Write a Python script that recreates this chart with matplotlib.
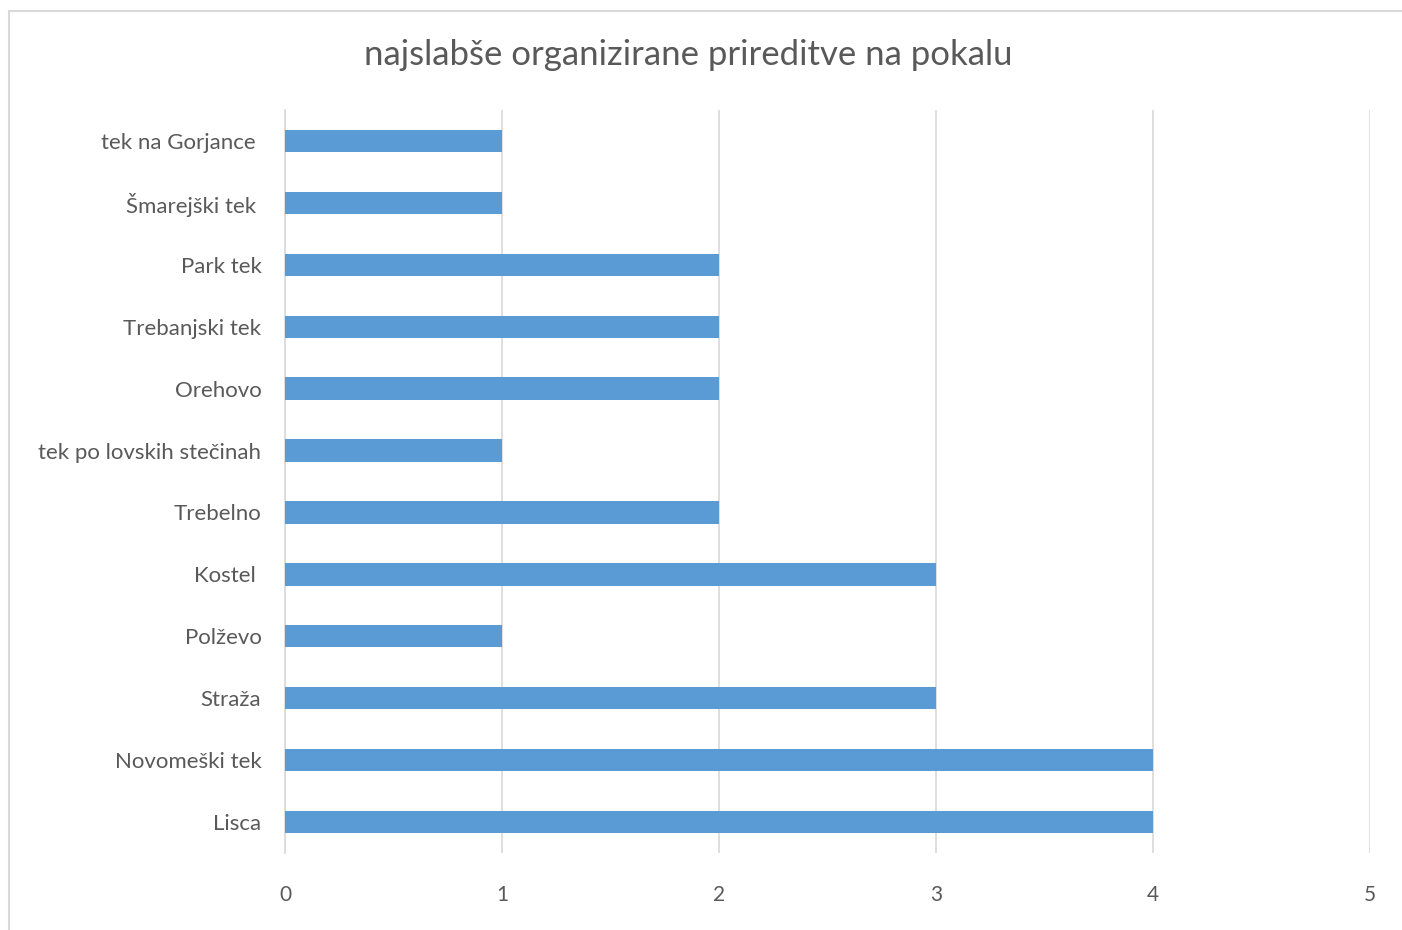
import matplotlib.pyplot as plt
from matplotlib.patches import Rectangle

events = ["Lisca", "Novomeški tek", "Straža", "Polževo", "Kostel ", "Trebelno",
          "tek po lovskih stečinah", "Orehovo", "Trebanjski tek", "Park tek",
          "Šmarejški tek ", "tek na Gorjance "]
votes = [4, 4, 3, 1, 3, 2, 1, 2, 2, 2, 1, 1]
xticks = [0, 1, 2, 3, 4, 5]

plt.rcParams['font.family'] = ['Lato', 'DejaVu Sans']
textcol = "#595959"
gridcol = "#D9D9D9"

fig = plt.figure(figsize=(14.02, 9.30), dpi=100)
ax = fig.add_axes([285/1402, 1 - 853/930, 1085/1402, 743/930])

y = range(len(events))
ax.barh(y, votes, height=0.36, color="#5B9BD5", zorder=3)

ax.set_xlim(0, 5)
ax.set_ylim(-0.5, len(events) - 0.5)
ax.set_xticks(xticks)
ax.set_yticks(list(y))
ax.set_yticklabels(events)
ax.tick_params(axis="x", length=0, pad=23, labelsize=15, labelcolor=textcol)
ax.tick_params(axis="y", length=0, pad=17, labelsize=16, labelcolor=textcol)
ax.grid(axis="x", color=gridcol, linewidth=1.2, zorder=0)
for s in ["top", "right", "bottom"]:
    ax.spines[s].set_visible(False)
ax.spines["left"].set_color(gridcol)
ax.spines["left"].set_linewidth(1.2)

fig.text(688/1402, 1 - 55/930, "najslabše organizirane prireditve na pokalu",
         ha="center", va="center", fontsize=25, color=textcol)

fig.patches.append(Rectangle((9/1402, -0.1), 1.2, 1 - 11/930 + 0.1,
                             transform=fig.transFigure, fill=False,
                             edgecolor=gridcol, linewidth=1.5))

plt.savefig("out.png")
